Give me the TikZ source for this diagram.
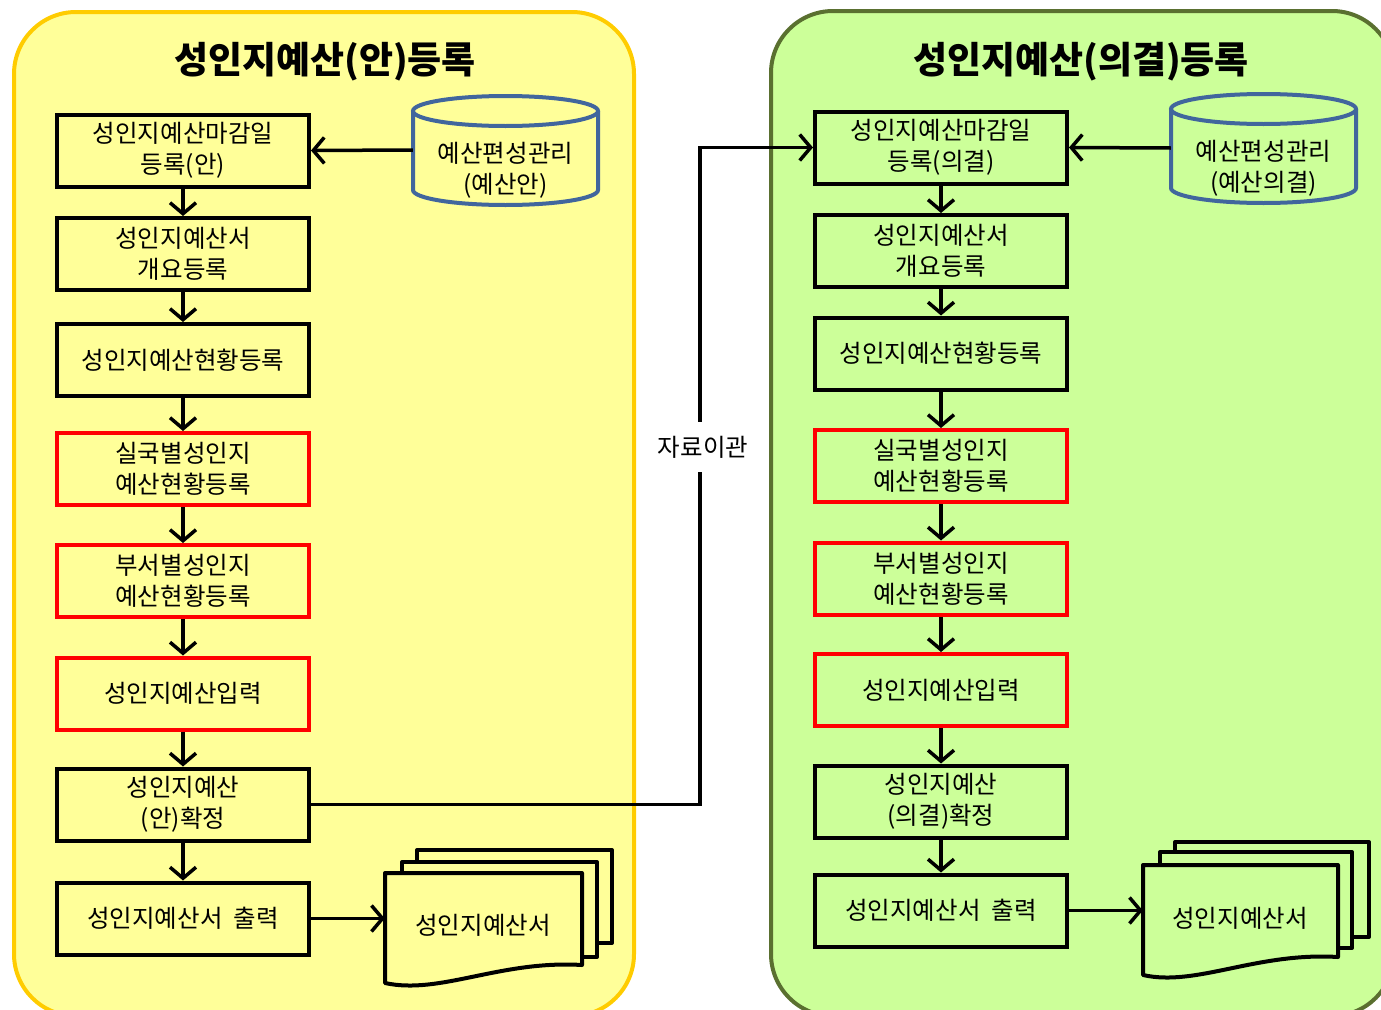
\documentclass[tikz,border=0pt]{standalone}
\usepackage{fontspec}
\setmainfont{Noto Sans CJK KR}
\usetikzlibrary{arrows.meta}
\definecolor{ylfill}{HTML}{FFFF99}
\definecolor{ylline}{HTML}{FFCC00}
\definecolor{grfill}{HTML}{CCFF99}
\definecolor{grline}{HTML}{5A7030}
\definecolor{dbline}{HTML}{41669D}
\begin{document}
\begin{tikzpicture}[x=1pt,y=-1pt,
  pbox/.style={draw=black,line width=4pt,minimum width=252pt,minimum height=72pt,align=center,inner sep=0pt,font=\fontsize{24.5}{31}\selectfont},
  rbox/.style={pbox,draw=red},
  arr/.style={line width=3.5pt,-{Straight Barb[length=11pt,width=26pt]}},
  panel/.style={line width=4pt,rounded corners=62pt},
  ttl/.style={font=\fontsize{37}{40}\selectfont\bfseries},
  txt/.style={align=center,inner sep=0pt,font=\fontsize{24.5}{31}\selectfont},
  docline/.style={draw=black,line width=4pt,line join=round},
  cyl/.style={draw=dbline,line width=4pt}]
\useasboundingbox (0,0) rectangle (1381,1009);
\clip (0,0) rectangle (1381,1009);
% panels
\draw[panel,fill=ylfill,draw=ylline] (14,12) rectangle (634,1016);
\draw[panel,fill=grfill,draw=grline] (771,11) rectangle (1394,1016);
% titles
\node[ttl] (T1) at (325,62) {성인지예산(안)등록};
\node[ttl] (T2) at (1081,62) {성인지예산(의결)등록};
% left boxes
\node[pbox] (L1) at (183,150.5) {성인지예산마감일\\등록(안)};
\node[pbox] (L2) at (183,254) {성인지예산서\\개요등록};
\node[pbox] (L3) at (183,360) {성인지예산현황등록};
\node[rbox] (L4) at (183,469) {실국별성인지\\예산현황등록};
\node[rbox] (L5) at (183,581) {부서별성인지\\예산현황등록};
\node[rbox] (L6) at (183,693.5) {성인지예산입력};
\node[pbox] (L7) at (183,804.5) {성인지예산\\(안)확정};
\node[pbox] (L8) at (183,918.5) {성인지예산서\ \ 출력};
% right boxes
\node[pbox] (R1) at (941,147.5) {성인지예산마감일\\등록(의결)};
\node[pbox] (R2) at (941,251) {성인지예산서\\개요등록};
\node[pbox] (R3) at (941,353.5) {성인지예산현황등록};
\node[rbox] (R4) at (941,466) {실국별성인지\\예산현황등록};
\node[rbox] (R5) at (941,578.5) {부서별성인지\\예산현황등록};
\node[rbox] (R6) at (941,690) {성인지예산입력};
\node[pbox] (R7) at (941,801.5) {성인지예산\\(의결)확정};
\node[pbox] (R8) at (941,910.5) {성인지예산서\ \ 출력};
% vertical arrows
\foreach \a/\b in {L1/L2,L2/L3,L3/L4,L4/L5,L5/L6,L6/L7,L7/L8,R1/R2,R2/R3,R3/R4,R4/R5,R5/R6,R6/R7,R7/R8}
  \draw[arr] (\a.south) -- (\b.north);
% cylinders
\draw[cyl,fill=ylfill] (413,111) -- (413,190) .. controls (413,198.3) and (454.4,205) .. (505.5,205) .. controls (556.6,205) and (598,198.3) .. (598,190) -- (598,111);
\draw[cyl,fill=ylfill] (505.5,111) ellipse [x radius=92.5,y radius=15];
\node[txt,minimum width=185pt,minimum height=109pt] (DB1) at (505.5,150) {};
\node[txt] (DB1t) at (505.5,170) {예산편성관리\\(예산안)};
\draw[cyl,fill=grfill] (1171,109) -- (1171,188) .. controls (1171,196.3) and (1212.4,203) .. (1263.5,203) .. controls (1314.6,203) and (1356,196.3) .. (1356,188) -- (1356,109);
\draw[cyl,fill=grfill] (1263.5,109) ellipse [x radius=92.5,y radius=15];
\node[txt,minimum width=185pt,minimum height=109pt] (DB2) at (1263.5,148) {};
\node[txt] (DB2t) at (1263.5,168) {예산편성관리\\(예산의결)};
\draw[arr] (DB1.west) -- (L1.east);
\draw[arr] (DB2.west) -- (R1.east);
% documents left
\draw[docline,fill=ylfill] (417,850) rectangle (612,943);
\draw[docline,fill=ylfill] (402,862) rectangle (597,957);
\draw[docline,fill=ylfill] (385,873) -- (582,873) -- (582,965) .. controls (500,960) and (440,995) .. (385,983) -- cycle;
\node[txt,minimum width=197pt,minimum height=90pt] (DOC1) at (483.5,918.5) {};
\node[txt] (DOC1t) at (483,925) {성인지예산서};
\draw[arr] (L8.east) -- (DOC1.west);
% documents right
\draw[docline,fill=grfill] (1175,842) rectangle (1369,937);
\draw[docline,fill=grfill] (1160,852) rectangle (1352,948);
\draw[docline,fill=grfill] (1143,865) -- (1338,865) -- (1338,957) .. controls (1256,952) and (1196,987) .. (1143,975) -- cycle;
\node[txt,minimum width=195pt,minimum height=90pt] (DOC2) at (1240.5,910.5) {};
\node[txt] (DOC2t) at (1240,918) {성인지예산서};
\draw[arr] (R8.east) -- (DOC2.west);
% transfer connector
\coordinate (mid) at (700,0);
\draw[arr] (L7.east) -- (L7.east -| mid) -- (mid |- R1.west) -- (R1.west);
\node[txt,fill=white,inner xsep=4pt,inner ysep=14pt] (lab) at (703,447) {자료이관};
\end{tikzpicture}
\end{document}
